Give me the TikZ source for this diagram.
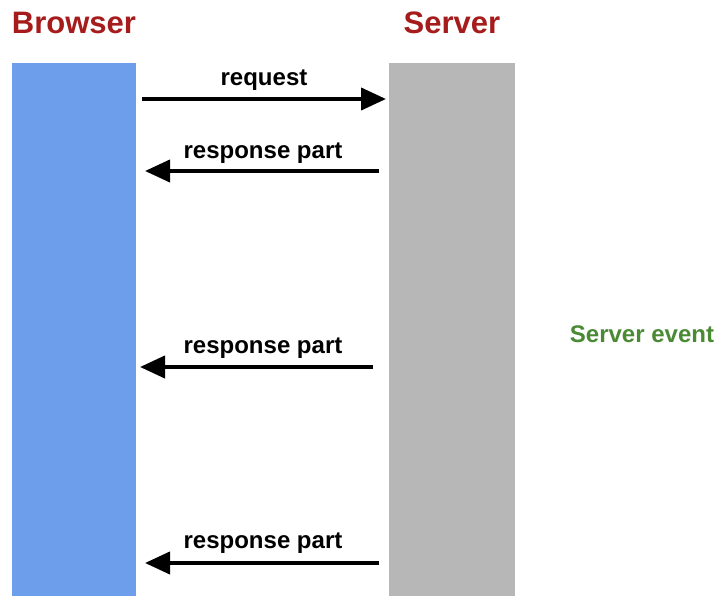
\documentclass[tikz,border=0pt]{standalone}
\usepackage{fontspec}
\setmainfont{Liberation Sans}
\usetikzlibrary{arrows.meta}
\definecolor{titlered}{HTML}{A61C1C}
\definecolor{barblue}{HTML}{6D9EEB}
\definecolor{bargrey}{HTML}{B7B7B7}
\definecolor{evgreen}{HTML}{4A8A35}
\tikzset{
  title/.style={font=\fontsize{31}{32}\selectfont\bfseries, text=titlered, inner sep=0pt},
  lbl/.style={font=\fontsize{24}{26}\selectfont\bfseries, text=black, inner sep=0pt},
  msg/.style={line width=4pt, -{Triangle[length=25pt,width=22pt]}},
}
\begin{document}
\begin{tikzpicture}[x=1pt,y=-1pt]
\useasboundingbox (0,0) rectangle (718,596);
\fill[white] (0,0) rectangle (718,596);
\fill[barblue] (12,63) rectangle (136,596);
\fill[bargrey] (389,63) rectangle (515,596);
\node[title] (tb) at (74,23) {Browser};
\node[title] (ts) at (452,23) {Server};
% request
\coordinate (r1s) at (142,99);
\coordinate (r1e) at (386,99);
\draw[msg] (r1s) -- (r1e);
\node[lbl] (l1) at (264,80) {request};
% responses
\coordinate (p1s) at (379,171);
\coordinate (p1e) at (145,171);
\draw[msg] (p1s) -- (p1e);
\node[lbl] (l2) at (263,153) {response part};
\coordinate (p2s) at (373,367);
\coordinate (p2e) at (140,367);
\draw[msg] (p2s) -- (p2e);
\node[lbl] (l3) at (263,348) {response part};
\coordinate (p3s) at (379,563);
\coordinate (p3e) at (145,563);
\draw[msg] (p3s) -- (p3e);
\node[lbl] (l4) at (263,543) {response part};
\node[lbl, text=evgreen] (ev) at (642,334) {Server event};
\end{tikzpicture}
\end{document}
